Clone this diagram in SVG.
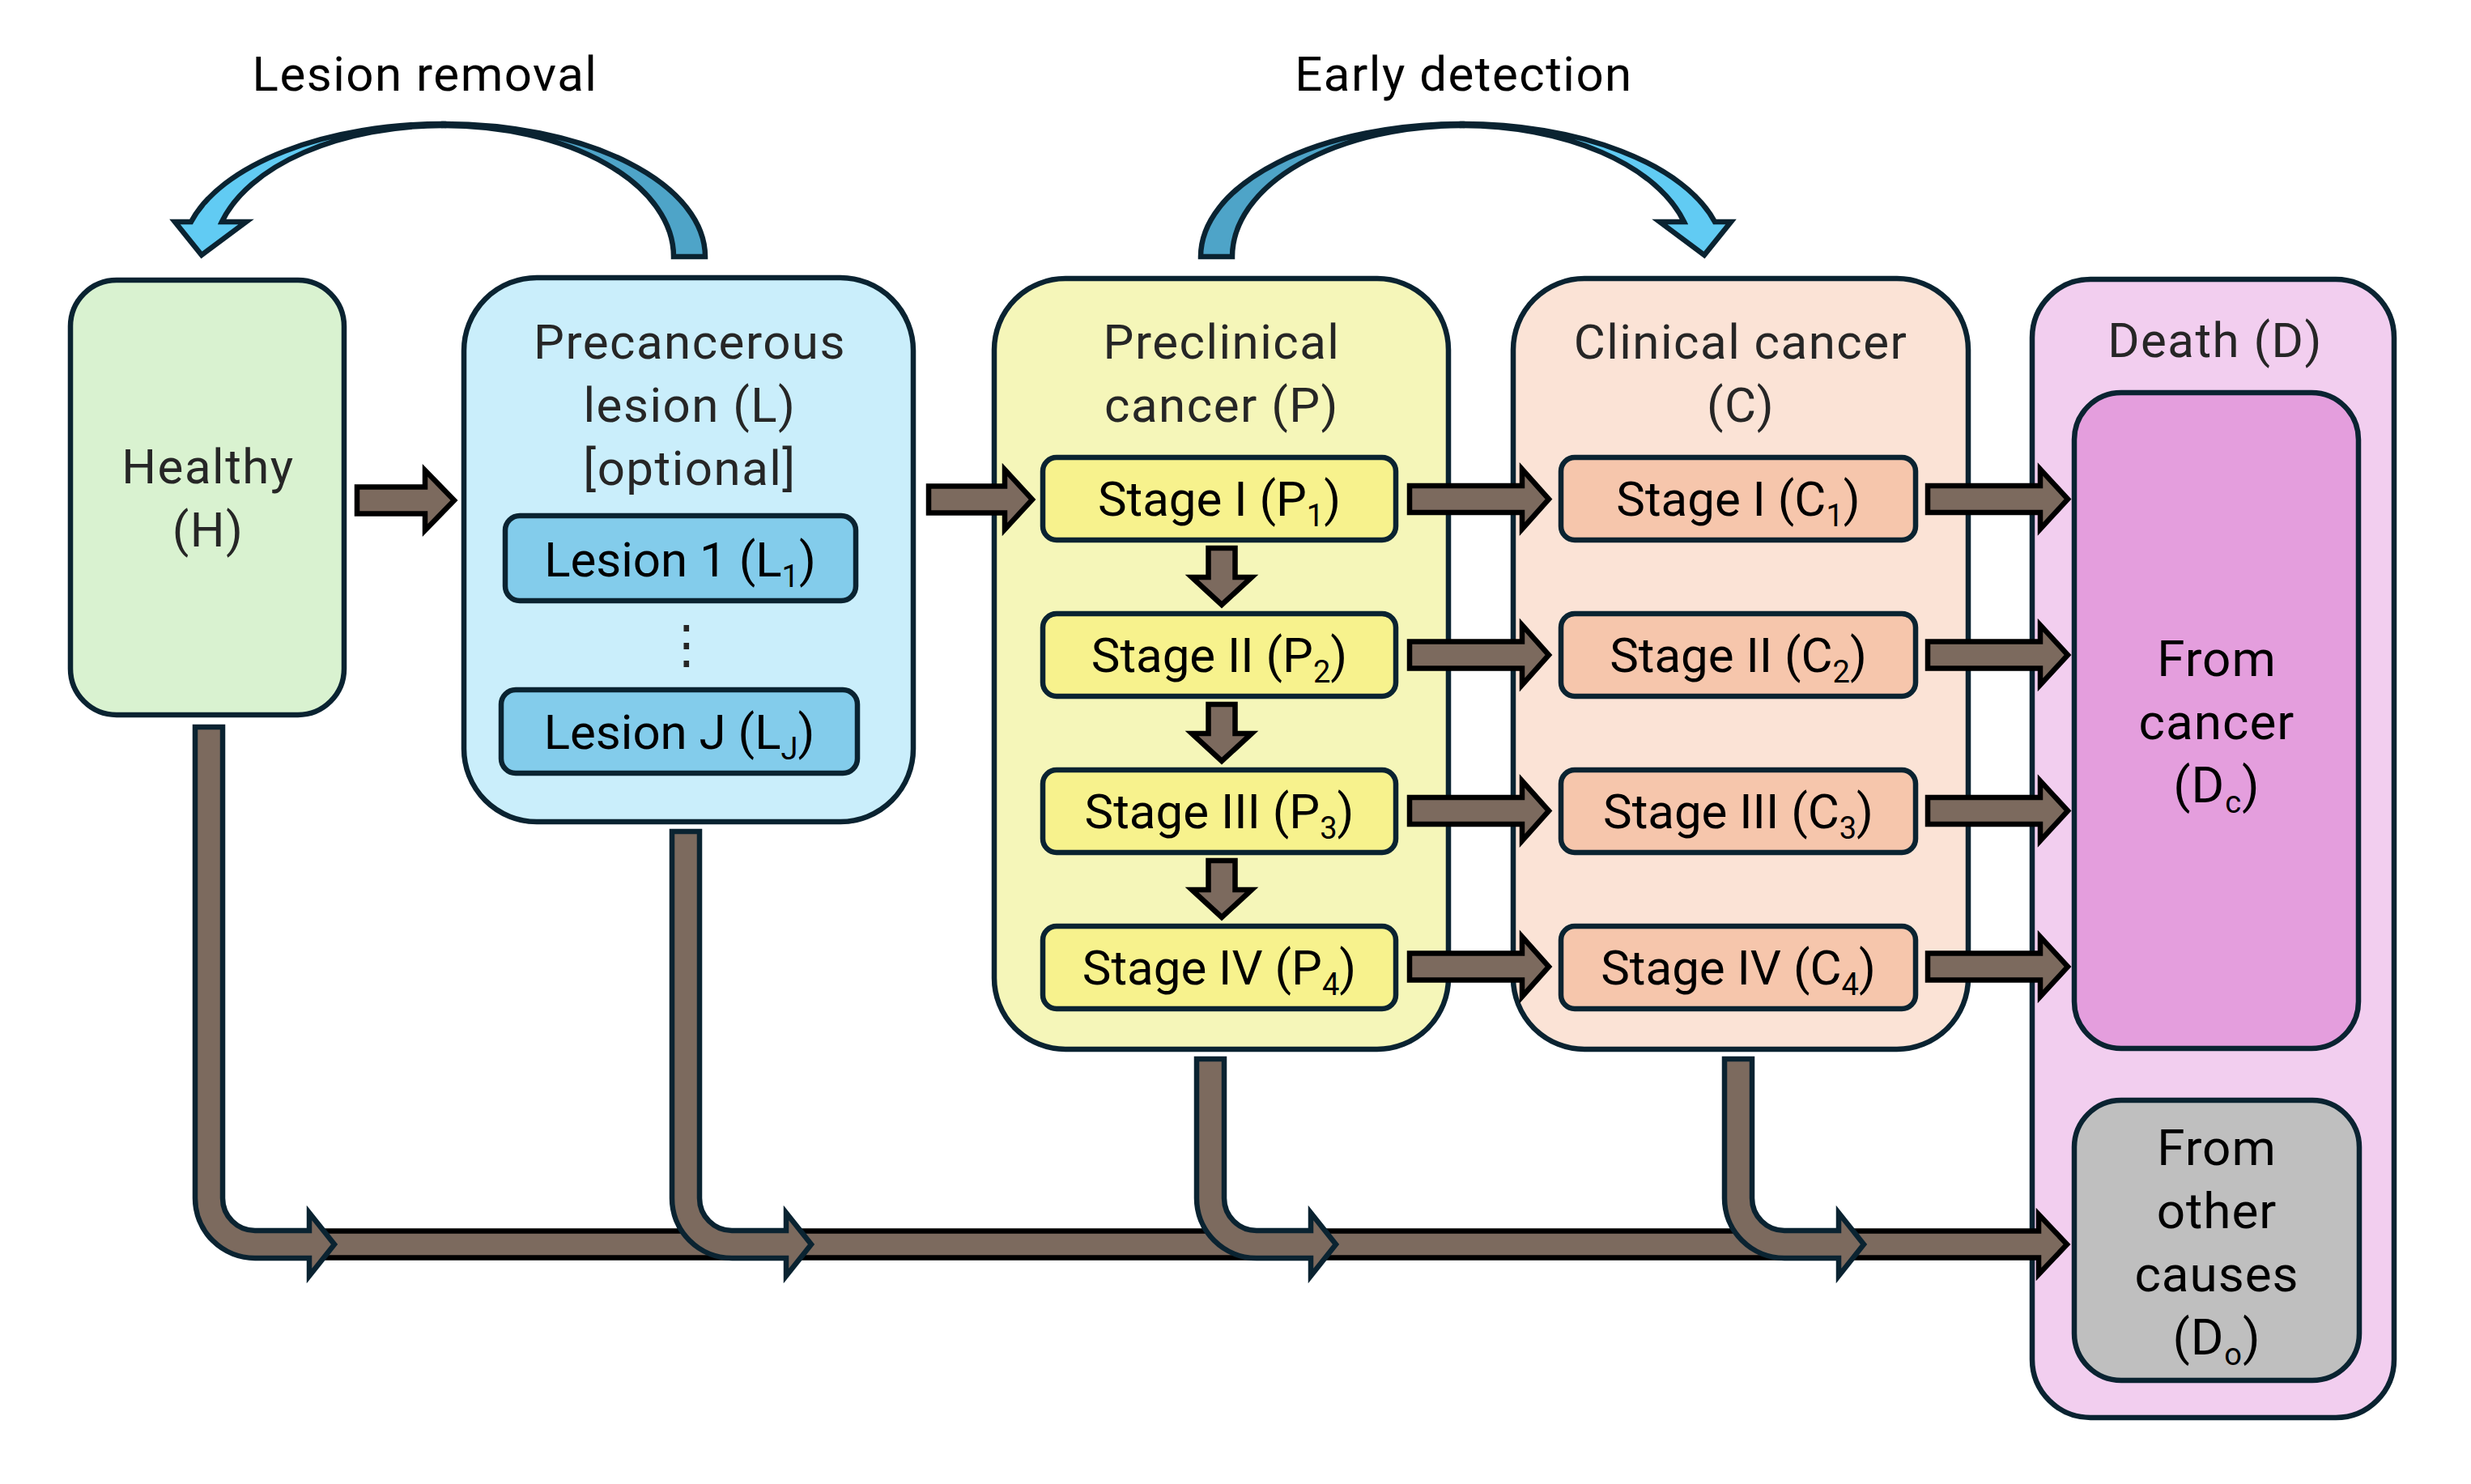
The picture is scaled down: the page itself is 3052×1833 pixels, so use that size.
<svg xmlns="http://www.w3.org/2000/svg" xmlns:xlink="http://www.w3.org/1999/xlink" width="3052" height="1833" viewBox="0 0 3052 1833">
<style>
.box{stroke:#0A2331;stroke-width:6.5}
.arr{fill:#7C6A5E;stroke:#000;stroke-width:6.5;stroke-linejoin:miter}
.bend{fill:#7C6A5E;stroke:#0A2331;stroke-width:6.5;stroke-linejoin:miter}
.cf{fill:#61CBF3;stroke:#0A2331;stroke-width:6.5;stroke-linejoin:miter}
.cb{fill:#4EA4C8;stroke:#0A2331;stroke-width:6.5;stroke-linejoin:miter}
text{font-family:Roboto,"Liberation Sans",sans-serif;text-anchor:middle}
.h{font-size:60px;fill:#262626;letter-spacing:1.5px}
.l{font-size:60px;fill:#000}
.d{font-size:62px;fill:#000;letter-spacing:1px}
.t{font-size:60px;fill:#000;letter-spacing:1.5px}
.s{font-size:38px}
</style>
<defs>
<g id="curved">
<path class="cb" d="M548,153 A323,164 0 0 1 871,317 L832,317 A284,162 0 0 0 548,155 Z"/>
<path class="cf" d="M548,153 A323,164 0 0 0 236,274 L216,274 L249,315 L304,274 L274,274 A284,162 0 0 1 548,155 Z"/>
</g>
</defs>

<g id="titles">
<text class="t" x="525" y="112">Lesion removal</text>
<text class="t" x="1808" y="112">Early detection</text>
</g>

<g id="feedback">
<use xlink:href="#curved"/>
<use xlink:href="#curved" transform="matrix(-1 0 0 1 2354 0)"/>
</g>

<g id="node-healthy">
<rect class="box" x="87" y="346" width="338" height="537" rx="57" fill="#D9F2D0"/>
<text class="h" x="257" y="597">Healthy</text>
<text class="h" x="257" y="675">(H)</text>
</g>

<g id="node-precancerous">
<rect class="box" x="573" y="343" width="555" height="672" rx="90" fill="#CAEEFB"/>
<text class="h" x="852" y="443">Precancerous</text>
<text class="h" x="852" y="521">lesion (L)</text>
<text class="h" x="852" y="599">[optional]</text>
</g>
<g id="node-lesion1">
<rect class="box" x="624" y="637" width="433" height="105" rx="18" fill="#83CCEB"/>
<text class="l" x="840" y="712">Lesion 1 (L<tspan class="s" dy="13">1</tspan><tspan dy="-13">)</tspan></text>
</g>
<g id="dots">
<text x="848" y="818" style="font-family:'DejaVu Sans',sans-serif;font-size:64px;fill:#262626">⋮</text>
</g>
<g id="node-lesionJ">
<rect class="box" x="619" y="852" width="440" height="103" rx="18" fill="#83CCEB"/>
<text class="l" x="839" y="925">Lesion J (L<tspan class="s" dy="13">J</tspan><tspan dy="-13">)</tspan></text>
</g>

<g id="node-preclinical">
<rect class="box" x="1228" y="344" width="561" height="952" rx="88" fill="#F5F6B9"/>
<text class="h" x="1509" y="443">Preclinical</text>
<text class="h" x="1509" y="521">cancer (P)</text>
</g>
<g id="node-P1">
<rect class="box" x="1288" y="565" width="436" height="102" rx="17" fill="#F7F28D"/>
<text class="l" x="1506" y="637">Stage I (P<tspan class="s" dy="13">1</tspan><tspan dy="-13">)</tspan></text>
</g>
<g id="node-P2">
<rect class="box" x="1288" y="758" width="436" height="102" rx="17" fill="#F7F28D"/>
<text class="l" x="1506" y="830">Stage II (P<tspan class="s" dy="13">2</tspan><tspan dy="-13">)</tspan></text>
</g>
<g id="node-P3">
<rect class="box" x="1288" y="951" width="436" height="102" rx="17" fill="#F7F28D"/>
<text class="l" x="1506" y="1023">Stage III (P<tspan class="s" dy="13">3</tspan><tspan dy="-13">)</tspan></text>
</g>
<g id="node-P4">
<rect class="box" x="1288" y="1144" width="436" height="102" rx="17" fill="#F7F28D"/>
<text class="l" x="1506" y="1216">Stage IV (P<tspan class="s" dy="13">4</tspan><tspan dy="-13">)</tspan></text>
</g>

<g id="node-clinical">
<rect class="box" x="1869" y="344" width="562" height="952" rx="88" fill="#FBE3D6"/>
<text class="h" x="2150" y="443">Clinical cancer</text>
<text class="h" x="2150" y="521">(C)</text>
</g>
<g id="node-C1">
<rect class="box" x="1928" y="565" width="438" height="102" rx="17" fill="#F6C6AC"/>
<text class="l" x="2147" y="637">Stage I (C<tspan class="s" dy="13">1</tspan><tspan dy="-13">)</tspan></text>
</g>
<g id="node-C2">
<rect class="box" x="1928" y="758" width="438" height="102" rx="17" fill="#F6C6AC"/>
<text class="l" x="2147" y="830">Stage II (C<tspan class="s" dy="13">2</tspan><tspan dy="-13">)</tspan></text>
</g>
<g id="node-C3">
<rect class="box" x="1928" y="951" width="438" height="102" rx="17" fill="#F6C6AC"/>
<text class="l" x="2147" y="1023">Stage III (C<tspan class="s" dy="13">3</tspan><tspan dy="-13">)</tspan></text>
</g>
<g id="node-C4">
<rect class="box" x="1928" y="1144" width="438" height="102" rx="17" fill="#F6C6AC"/>
<text class="l" x="2147" y="1216">Stage IV (C<tspan class="s" dy="13">4</tspan><tspan dy="-13">)</tspan></text>
</g>

<g id="node-death">
<rect class="box" x="2510" y="345" width="447" height="1406" rx="72" fill="#F2CEEF"/>
<text class="h" x="2736" y="441">Death (D)</text>
</g>
<g id="node-Dc">
<rect class="box" x="2562" y="485" width="351" height="810" rx="58" fill="#E49EDD"/>
<text class="d" x="2738" y="835">From</text>
<text class="d" x="2738" y="913">cancer</text>
<text class="d" x="2738" y="991">(D<tspan class="s" dy="13">c</tspan><tspan dy="-13">)</tspan></text>
</g>
<g id="node-Do">
<rect class="box" x="2562" y="1359" width="352" height="346" rx="58" fill="#BFBFBF"/>
<text class="d" x="2738" y="1439">From</text>
<text class="d" x="2738" y="1517">other</text>
<text class="d" x="2738" y="1595">causes</text>
<text class="d" x="2738" y="1673">(D<tspan class="s" dy="13">o</tspan><tspan dy="-13">)</tspan></text>
</g>

<g id="connectors">
<path class="arr" d="M441,601.5 H525 V581 L561,618 L525,655 V634.5 H441 Z"/>
<path class="arr" d="M1147,600.5 H1241 V580 L1275,617 L1241,654 V633.5 H1147 Z"/>
<path class="arr" d="M1741,600 H1880 V579.5 L1913,616.5 L1880,653.5 V633 H1741 Z"/>
<path class="arr" d="M1741,792.5 H1880 V772 L1913,809 L1880,846 V825.5 H1741 Z"/>
<path class="arr" d="M1741,985 H1880 V964.5 L1913,1001.5 L1880,1038.5 V1018 H1741 Z"/>
<path class="arr" d="M1741,1177.5 H1880 V1157 L1913,1194 L1880,1231 V1210.5 H1741 Z"/>
<path class="arr" d="M2381,600 H2520 V579.5 L2554,616.5 L2520,653.5 V633 H2381 Z"/>
<path class="arr" d="M2381,792.5 H2520 V772 L2554,809 L2520,846 V825.5 H2381 Z"/>
<path class="arr" d="M2381,985 H2520 V964.5 L2554,1001.5 L2520,1038.5 V1018 H2381 Z"/>
<path class="arr" d="M2381,1177.5 H2520 V1157 L2554,1194 L2520,1231 V1210.5 H2381 Z"/>
<path class="arr" d="M1492.5,677 H1525.5 V713 H1546 L1509,747 L1472,713 H1492.5 Z"/>
<path class="arr" d="M1492.5,870 H1525.5 V906 H1546 L1509,940 L1472,906 H1492.5 Z"/>
<path class="arr" d="M1492.5,1063 H1525.5 V1099 H1546 L1509,1133 L1472,1099 H1492.5 Z"/>
<path class="arr" d="M330,1520.5 H2518 V1500 L2553,1537 L2518,1574 V1553.5 H330 Z"/>
<path class="bend" d="M241,898 H275 V1480 A40,40 0 0 0 315,1520 H382 V1498 L413,1537 L382,1576 V1554 H315 A74,74 0 0 1 241,1480 Z"/>
<path class="bend" d="M830,1027 H864 V1480 A40,40 0 0 0 904,1520 H971 V1498 L1002,1537 L971,1576 V1554 H904 A74,74 0 0 1 830,1480 Z"/>
<path class="bend" d="M1478,1308 H1512 V1480 A40,40 0 0 0 1552,1520 H1619 V1498 L1650,1537 L1619,1576 V1554 H1552 A74,74 0 0 1 1478,1480 Z"/>
<path class="bend" d="M2130,1308 H2164 V1480 A40,40 0 0 0 2204,1520 H2271 V1498 L2302,1537 L2271,1576 V1554 H2204 A74,74 0 0 1 2130,1480 Z"/>
</g>
</svg>
